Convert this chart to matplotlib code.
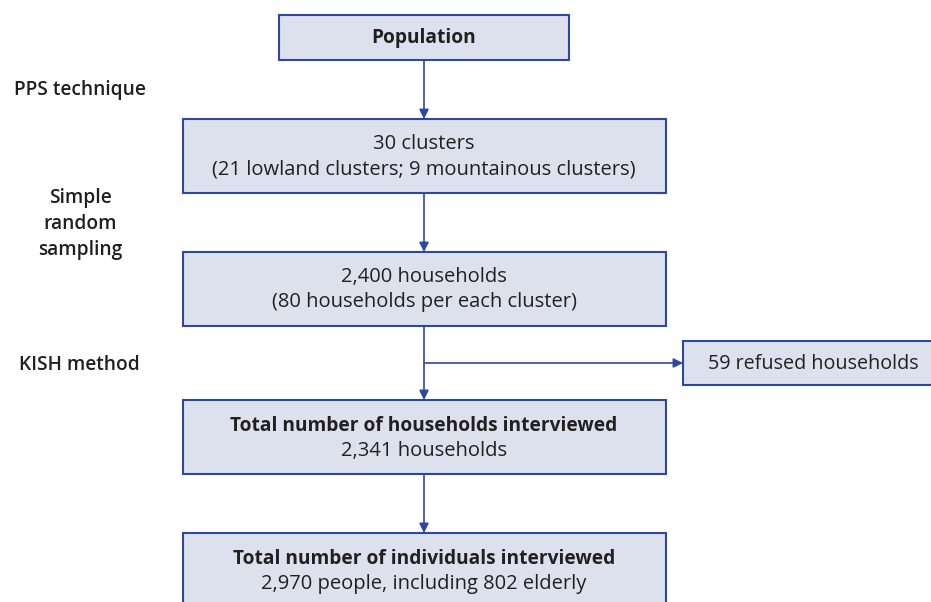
import matplotlib
matplotlib.use("Agg")
import matplotlib.pyplot as plt
from matplotlib.patches import Rectangle, FancyArrowPatch

plt.rcParams['font.family'] = ['Open Sans', 'DejaVu Sans']

# Data
box_titles = ["Population", None, None, "Total number of households interviewed",
              "Total number of individuals interviewed"]
box_lines = [None,
             ["30 clusters", "(21 lowland clusters; 9 mountainous clusters)"],
             ["2,400 households", "(80 households per each cluster)"],
             ["2,341 households"],
             ["2,970 people, including 802 elderly"]]
side_box_text = "59 refused households"
step_labels = ["PPS technique", "Simple\nrandom\nsampling", "KISH method"]

FILL = "#dde1ee"
EDGE = "#2d48a0"
TXT = "#231f20"

W, H = 931, 602
fig = plt.figure(figsize=(W / 100, H / 100), dpi=100)
ax = fig.add_axes([0, 0, 1, 1])
ax.set_xlim(0, W)
ax.set_ylim(H, 0)
ax.axis("off")

boxes = [(279, 15, 569, 60), (183, 119, 666, 193), (183, 252, 666, 326),
         (183, 400, 666, 474), (183, 533, 666, 640)]
cx = 424
FS = 14.5
BFS = 13.8
LFS = 13.8

for i, (x0, y0, x1, y1) in enumerate(boxes):
    ax.add_patch(Rectangle((x0, y0), x1 - x0, y1 - y0, facecolor=FILL,
                           edgecolor=EDGE, lw=1.5, zorder=2))
    if i == 0:
        ax.text(cx, (y0 + y1) / 2 + 1, box_titles[0], ha="center", va="center",
                fontsize=BFS, fontweight="bold", color=TXT, zorder=3)
    elif i in (1, 2):
        ym = (y0 + y1) / 2
        ax.text(cx, ym - 12, box_lines[i][0], ha="center", va="center",
                fontsize=FS, color=TXT, zorder=3)
        ax.text(cx, ym + 13, box_lines[i][1], ha="center", va="center",
                fontsize=FS, color=TXT, zorder=3)
    else:
        ym = y0 + 37
        ax.text(cx, ym - 11, box_titles[i], ha="center", va="center",
                fontsize=BFS, fontweight="bold", color=TXT, zorder=3)
        ax.text(cx, ym + 14, box_lines[i][0], ha="center", va="center",
                fontsize=FS, color=TXT, zorder=3)

sx0, sy0, sx1, sy1 = 683, 341, 945, 385
ax.add_patch(Rectangle((sx0, sy0), sx1 - sx0, sy1 - sy0, facecolor=FILL,
                       edgecolor=EDGE, lw=1.5, zorder=2))
ax.text(813, (sy0 + sy1) / 2 + 1, side_box_text, ha="center", va="center",
        fontsize=14.2, color=TXT, zorder=3)

def arrow(x0, y0, x1, y1):
    ax.add_patch(FancyArrowPatch((x0, y0), (x1, y1), arrowstyle="-|>",
                                 mutation_scale=14, color=EDGE, lw=1.2,
                                 shrinkA=0, shrinkB=0, zorder=1))

for a, b in zip(boxes[:-1], boxes[1:]):
    arrow(cx, a[3], cx, b[1])
arrow(cx, 363, sx0, 363)

ax.text(80, 90, step_labels[0], ha="center", va="center", fontsize=LFS,
        color=TXT, fontweight="semibold")
ax.text(80, 224, step_labels[1], ha="center", va="center", fontsize=LFS,
        color=TXT, linespacing=1.4, fontweight="semibold")
ax.text(79, 365, step_labels[2], ha="center", va="center", fontsize=LFS,
        color=TXT, fontweight="semibold")

fig.savefig("out.png", dpi=100)
